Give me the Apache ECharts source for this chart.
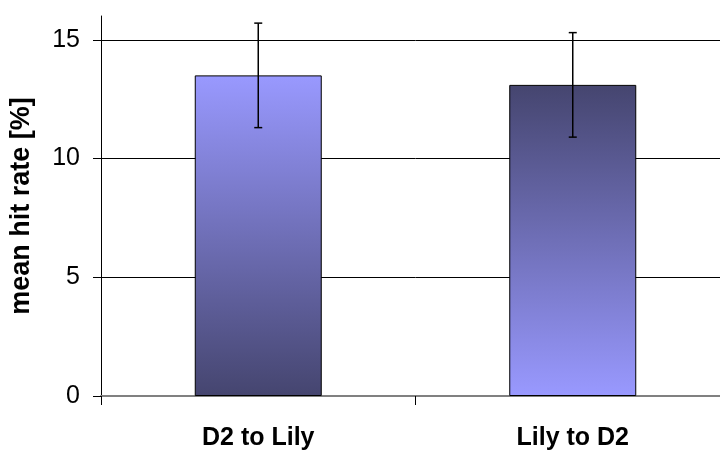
<!DOCTYPE html>
<html>
<head>
<meta charset="utf-8">
<script src="https://cdn.jsdelivr.net/npm/echarts@6/dist/echarts.min.js"></script>
<style>
  html, body { margin: 0; padding: 0; background: #fff; overflow: hidden; width: 720px; height: 451px; }
  /* the plot area runs a little past the right edge of the page */
  #chart { width: 730px; height: 451px; }
</style>
</head>
<body>
<div id="chart"></div>
<script>
// Mean hit rate per transfer direction, with error bars
const categories = ['D2 to Lily', 'Lily to D2'];
const meanHitRate = [13.5, 13.1];
const errorAmount = [2.2, 2.2];
const yTicks = { min: 0, max: 16, interval: 5 };

const LIGHT = '#9999FF';
const DARK = '#45456F';

function fade(topColor, bottomColor) {
  return new echarts.graphic.LinearGradient(0, 0, 0, 1, [
    { offset: 0, color: topColor },
    { offset: 1, color: bottomColor }
  ]);
}

const barData = meanHitRate.map((v, i) => ({
  value: v,
  itemStyle: {
    color: i === 0 ? fade(LIGHT, DARK) : fade(DARK, LIGHT)
  }
}));

const errorData = meanHitRate.map((v, i) => [i, v - errorAmount[i], v + errorAmount[i]]);

const chart = echarts.init(document.getElementById('chart'), null, { renderer: 'canvas' });

chart.setOption({
  animation: false,
  backgroundColor: '#fff',
  textStyle: { fontFamily: 'Liberation Sans, Arial, sans-serif' },
  grid: { left: 100, top: 16, right: 0, bottom: 54.5, containLabel: false },
  xAxis: {
    type: 'category',
    data: categories,
    boundaryGap: true,
    axisLine: { show: true, lineStyle: { color: '#808080', width: 2 } },
    axisTick: { show: true, interval: 0, length: 9, lineStyle: { color: '#000', width: 1 } },
    axisLabel: {
      interval: 0,
      margin: 30,
      color: '#000',
      fontSize: 25,
      fontWeight: 'bold',
      fontFamily: 'Liberation Sans, Arial, sans-serif'
    },
    splitLine: { show: false }
  },
  yAxis: {
    type: 'value',
    min: yTicks.min,
    max: yTicks.max,
    interval: yTicks.interval,
    name: 'mean hit rate [%]',
    nameLocation: 'middle',
    nameRotate: 90,
    nameGap: 66,
    nameTextStyle: {
      color: '#000',
      fontSize: 27,
      fontWeight: 'bold',
      fontFamily: 'Liberation Sans, Arial, sans-serif'
    },
    axisLine: { show: true, lineStyle: { color: '#000', width: 1 } },
    axisTick: { show: true, length: 8, lineStyle: { color: '#000', width: 1 } },
    axisLabel: {
      color: '#000',
      fontSize: 25,
      margin: 21,
      showMaxLabel: false,
      fontFamily: 'Liberation Sans, Arial, sans-serif'
    },
    splitLine: {
      show: true,
      showMinLine: false,
      showMaxLine: false,
      lineStyle: { color: '#000', width: 1 }
    }
  },
  series: [
    {
      type: 'bar',
      data: barData,
      barWidth: 127,
      itemStyle: { borderColor: '#000', borderWidth: 1 },
      z: 2
    },
    {
      type: 'custom',
      data: errorData,
      z: 5,
      renderItem: function (params, api) {
        const x = api.value(0);
        const lo = api.coord([x, api.value(1)]);
        const hi = api.coord([x, api.value(2)]);
        const cap = 4;
        const style = { stroke: '#000', lineWidth: 1.5 };
        return {
          type: 'group',
          children: [
            { type: 'line', shape: { x1: hi[0], y1: hi[1], x2: lo[0], y2: lo[1] }, style: style },
            { type: 'line', shape: { x1: hi[0] - cap, y1: hi[1], x2: hi[0] + cap, y2: hi[1] }, style: style },
            { type: 'line', shape: { x1: lo[0] - cap, y1: lo[1], x2: lo[0] + cap, y2: lo[1] }, style: style }
          ]
        };
      }
    }
  ]
});
</script>
</body>
</html>
